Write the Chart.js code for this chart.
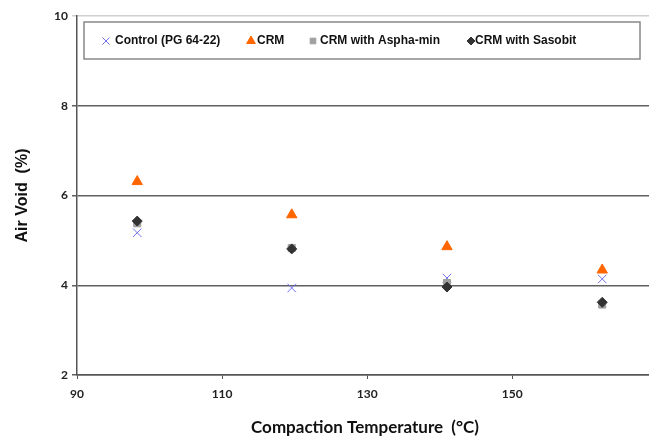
<!DOCTYPE html>
<html>
<head>
<meta charset="utf-8">
<script src="https://cdn.jsdelivr.net/npm/chart.js@4"></script>
<style>
  body { margin: 0; background: #fff; overflow: hidden; }
  #wrap { width: 649px; height: 438px; overflow: hidden; position: relative; }
</style>
</head>
<body>
<div id="wrap"><canvas id="chart" width="660" height="438"></canvas></div>
<script>
// data
let temps = [98.3, 119.6, 141, 162.4];
let controlVoids = [5.17, 3.94, 4.16, 4.14];
let crmVoids = [6.31, 5.57, 4.86, 4.34];
let asphaVoids = [5.38, 4.83, 4.05, 3.57];
let sasobitVoids = [5.43, 4.81, 3.96, 3.62];
let seriesNames = ['Control (PG 64-22)', 'CRM', 'CRM with Aspha-min', 'CRM with Sasobit'];
let yTicks = [2, 4, 6, 8, 10];
let xTicks = [90, 110, 130, 150];

function toPoints(ys) {
  return ys.map((y, i) => ({ x: temps[i], y: y }));
}

let styles = [
  { pointStyle: 'crossRot', color: '#7070f0', radius: 6, border: 1 },
  { pointStyle: 'triangle', color: '#ff6600', radius: 6, border: 1 },
  { pointStyle: 'rect', color: '#a0a0a0', radius: 5, border: 1 },
  { pointStyle: 'rectRot', color: '#333333', radius: 5, border: 1 }
];

let allVoids = [controlVoids, crmVoids, asphaVoids, sasobitVoids];

let datasets = allVoids.map((ys, i) => ({
  label: seriesNames[i],
  data: toPoints(ys),
  pointStyle: styles[i].pointStyle,
  pointRadius: styles[i].radius,
  pointBackgroundColor: styles[i].color,
  pointBorderColor: styles[i].color,
  pointBorderWidth: styles[i].border,
  showLine: false,
  order: 4 - i
}));

// boxed legend drawn inside the plot, like the original
let boxLegend = {
  id: 'boxLegend',
  afterDatasetsDraw(chart) {
    let ctx = chart.ctx;
    ctx.save();
    ctx.fillStyle = '#fff';
    ctx.strokeStyle = '#888';
    ctx.lineWidth = 1.5;
    ctx.fillRect(84, 22, 556, 37);
    ctx.strokeRect(84, 22, 556, 37);

    ctx.font = 'bold 12px "Liberation Sans", Arial, sans-serif';
    ctx.textBaseline = 'middle';
    let markX = [106, 251, 313, 471];
    let textX = [115, 257, 320, 475];
    let y = 41;
    for (let i = 0; i < seriesNames.length; i++) {
      let s = styles[i];
      ctx.fillStyle = s.color;
      ctx.strokeStyle = s.color;
      ctx.lineWidth = s.border;
      Chart.helpers.drawPoint(ctx, {
        pointStyle: s.pointStyle,
        radius: s.radius - 1,
        borderWidth: s.border,
        rotation: 0
      }, markX[i], y);
      ctx.fillStyle = '#111';
      ctx.fillText(seriesNames[i], textX[i], y);
    }
    ctx.restore();
  }
};

new Chart(document.getElementById('chart'), {
  type: 'scatter',
  data: { datasets: datasets },
  plugins: [boxLegend],
  options: {
    responsive: false,
    animation: false,
    layout: { padding: { top: 16, right: 2, left: 0, bottom: 0 } },
    plugins: {
      legend: { display: false },
      tooltip: { enabled: false }
    },
    scales: {
      x: {
        type: 'linear',
        min: 90,
        max: 169.4,
        afterFit: (scale) => {
          scale.height = 63;
          scale.paddingLeft = 0;
          scale.paddingRight = 0;
        },
        afterBuildTicks: (scale) => { scale.ticks = xTicks.map(v => ({ value: v })); },
        ticks: {
          color: '#222',
          padding: 8,
          font: { family: 'Lato, "Open Sans", sans-serif', weight: 'bold', size: 12 }
        },
        grid: { drawOnChartArea: false, color: '#555', tickLength: 4 },
        border: { color: '#555', width: 1.5 },
        title: {
          display: true,
          text: 'Compaction Temperature  (°C)',
          color: '#111',
          padding: { top: 3, bottom: 0 },
          font: { family: 'Lato, "Open Sans", sans-serif', weight: 'bold', size: 17 }
        }
      },
      y: {
        min: 2,
        max: 10,
        afterFit: (scale) => { scale.width = 77; },
        afterBuildTicks: (scale) => { scale.ticks = yTicks.map(v => ({ value: v })); },
        ticks: {
          color: '#222',
          padding: 4,
          font: { family: 'Lato, "Open Sans", sans-serif', weight: 'bold', size: 12 }
        },
        grid: {
          color: (c) => (c.tick && c.tick.value === 10 ? '#d0d0d0' : '#606060'),
          lineWidth: 1.5,
          tickLength: 5
        },
        border: { color: '#555', width: 1.5 },
        title: {
          display: true,
          text: 'Air Void  (%)',
          color: '#111',
          padding: { top: 13, bottom: 0 },
          font: { family: '"Liberation Sans", Arial, sans-serif', weight: 'bold', size: 16 }
        }
      }
    }
  }
});
</script>
</body>
</html>
